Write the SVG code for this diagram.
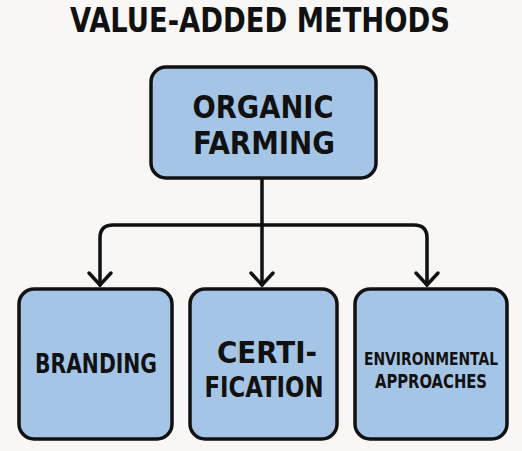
<svg xmlns="http://www.w3.org/2000/svg" width="522" height="451" viewBox="0 0 522 451">
<style>
.box{fill:#a4c5e5;stroke:#111;stroke-width:3.5}
.t{font-family:"DejaVu Sans Condensed","DejaVu Sans",sans-serif;font-stretch:condensed;font-weight:bold;fill:#111;text-anchor:middle}
.c{fill:none;stroke:#111;stroke-width:3.5;stroke-linecap:round;stroke-linejoin:round}
</style>
<defs>
<marker id="arr" markerUnits="userSpaceOnUse" markerWidth="30" markerHeight="30" refX="15" refY="15" orient="auto" viewBox="0 0 30 30">
<path d="M3,4 L15,15 L3,26" fill="none" stroke="#111" stroke-width="3.5" stroke-linecap="round" stroke-linejoin="miter"/>
</marker>
</defs>
<rect width="522" height="451" fill="#f8f7f5"/>
<text class="t" x="260" y="32" font-size="33" textLength="380" lengthAdjust="spacingAndGlyphs">VALUE-ADDED METHODS</text>
<g id="connectors">
<path class="c" d="M262,179 V285" marker-end="url(#arr)"/>
<path class="c" d="M262,225 H113 Q100,225 100,238 V285" marker-end="url(#arr)"/>
<path class="c" d="M262,225 H414 Q427,225 427,238 V285" marker-end="url(#arr)"/>
</g>
<g id="organic">
<rect class="box" x="151" y="67" width="225" height="111" rx="15"/>
<text class="t" x="263" y="118" font-size="32" textLength="141" lengthAdjust="spacingAndGlyphs">ORGANIC</text>
<text class="t" x="264" y="154" font-size="32" textLength="142" lengthAdjust="spacingAndGlyphs">FARMING</text>
</g>
<g id="branding">
<rect class="box" x="19" y="289" width="153" height="150" rx="15"/>
<text class="t" x="96" y="373" font-size="27" textLength="122" lengthAdjust="spacingAndGlyphs">BRANDING</text>
</g>
<g id="certification">
<rect class="box" x="190" y="289" width="147" height="150" rx="15"/>
<text class="t" x="267" y="363" font-size="30" textLength="100" lengthAdjust="spacingAndGlyphs">CERTI-</text>
<text class="t" x="264" y="397" font-size="29" textLength="119" lengthAdjust="spacingAndGlyphs">FICATION</text>
</g>
<g id="environmental">
<rect class="box" x="355" y="289" width="152" height="150" rx="15"/>
<text class="t" x="431" y="365" font-size="18" textLength="134" lengthAdjust="spacingAndGlyphs">ENVIRONMENTAL</text>
<text class="t" x="431" y="388" font-size="20" textLength="112" lengthAdjust="spacingAndGlyphs">APPROACHES</text>
</g>
</svg>
